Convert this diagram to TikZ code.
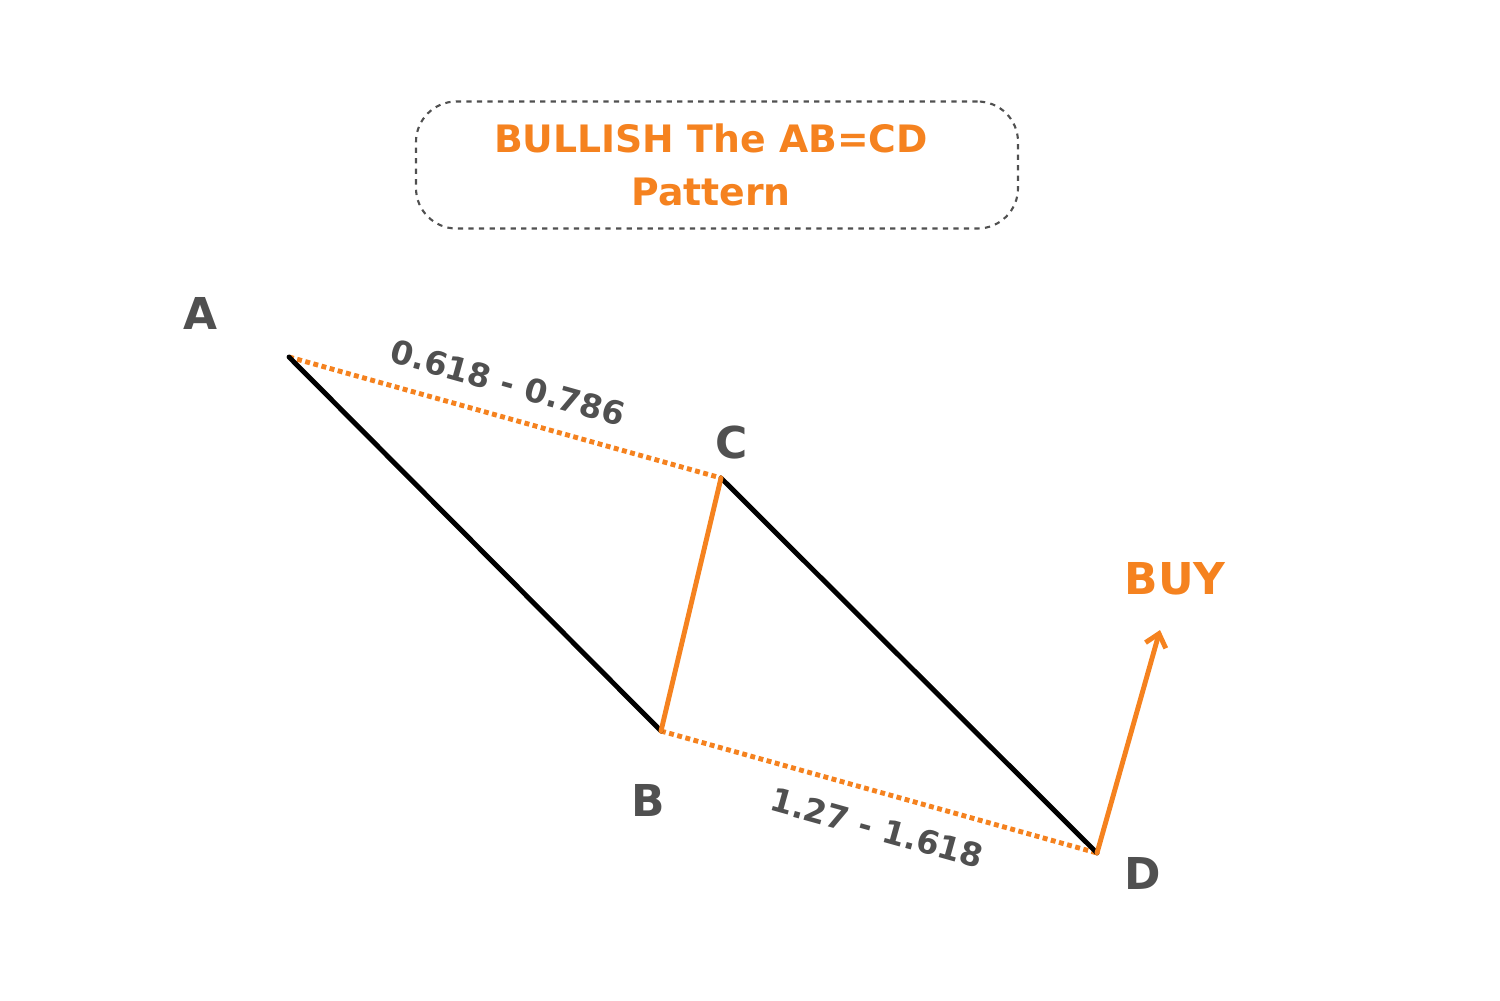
\documentclass[tikz,border=0pt]{standalone}
\usetikzlibrary{arrows.meta}
\usepackage{fontspec}
\setmainfont{DejaVu Sans}
\definecolor{org}{HTML}{F5821F}
\definecolor{gry}{HTML}{505050}
\begin{document}
\begin{tikzpicture}[x=0.02cm,y=-0.02cm,
  lbl/.style={font=\bfseries\fontsize{25}{30}\selectfont,text=gry},
  ratio/.style={font=\bfseries\fontsize{18.5}{22}\selectfont,text=gry},
  leg/.style={line width=2.8pt,line cap=round},
  dots/.style={line width=2.8pt,org,dotted}]
\useasboundingbox (0,0) rectangle (1500,1000);
\node[draw=gry,dashed,line width=1.2pt,rounded corners=23pt,minimum width=602*0.02cm,minimum height=127*0.02cm] (title) at (717,165) {};
\node[align=center,text=org,font=\bfseries\fontsize{21.5}{30}\selectfont] (titletext) at (711,165) {BULLISH The AB=CD\\Pattern};
\coordinate (A) at (289,357);
\coordinate (B) at (661,731);
\coordinate (C) at (721,478);
\coordinate (D) at (1097,853);
\coordinate (E) at (1160,630);
\draw[dots] (A) -- (C);
\draw[dots] (B) -- (D);
\draw[leg,black] (A) -- (B);
\draw[leg,black] (C) -- (D);
\draw[leg,org] (B) -- (C);
\draw[leg,org,-{Straight Barb[length=7pt,width=12pt]}] (D) -- (E);
\node[lbl] (lA) at (200,313) {A};
\node[lbl] (lB) at (648,800) {B};
\node[lbl] (lC) at (732,443) {C};
\node[lbl] (lD) at (1143,873) {D};
\node[lbl,text=org] (buy) at (1175,579) {BUY};
\node[ratio,rotate=-15.6] (r1) at (508,383) {0.618 - 0.786};
\node[ratio,rotate=-15.6] (r2) at (877,828) {1.27 - 1.618};
\end{tikzpicture}
\end{document}
